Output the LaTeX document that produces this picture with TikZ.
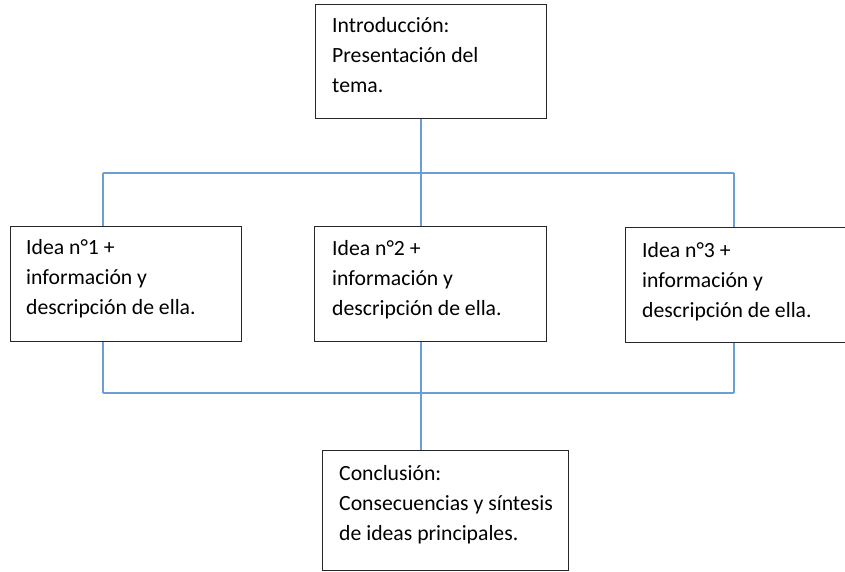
\documentclass[tikz,border=0pt]{standalone}
\usepackage{fontspec}
\setmainfont{Carlito}
\definecolor{conn}{RGB}{108,158,214}
\begin{document}
\begin{tikzpicture}[x=1pt,y=-1pt,
  box/.style={draw=black!85,line width=1.4pt,rectangle,inner sep=0pt,anchor=north west},
  txt/.style={anchor=base west,inner sep=0pt,align=left,font=\fontsize{21.7}{30}\selectfont},
  wire/.style={draw=conn,line width=2.2pt}]
\useasboundingbox (0,0) rectangle (845,571);
\clip (0,0) rectangle (845,571);
% boxes
\node[box,minimum width=231pt,minimum height=114pt] (intro) at (315,4) {};
\node[box,minimum width=231pt,minimum height=115pt] (i1) at (10,226) {};
\node[box,minimum width=232pt,minimum height=115pt] (i2) at (314,226) {};
\node[box,minimum width=240pt,minimum height=115pt] (i3) at (625,227) {};
\node[box,minimum width=246pt,minimum height=119.5pt] (concl) at (322,450) {};
% texts (anchored at the baseline of the last line)
\node[txt] (tintro) at (332,92) {Introducción:\\Presentación del\\tema.};
\node[txt] (ti1) at (26,314) {Idea n°1 +\\información y\\descripción de ella.};
\node[txt] (ti2) at (332,315) {Idea n°2 +\\información y\\descripción de ella.};
\node[txt] (ti3) at (642,317) {Idea n°3 +\\información y\\descripción de ella.};
\node[txt] (tconcl) at (339,540) {Conclusión:\\Consecuencias y síntesis\\de ideas principales.};
% connector coordinates
\coordinate (tl) at (103,173);
\coordinate (tm) at (421,173);
\coordinate (tr) at (734,173);
\coordinate (bl) at (103,393);
\coordinate (bm) at (421,393);
\coordinate (br) at (734,393);
% connectors
\draw[wire] (intro.south -| tm) -- (tm);
\draw[wire] (tl) -- (tr);
\draw[wire] (tl) -- (i1.north -| tl);
\draw[wire] (tm) -- (i2.north -| tm);
\draw[wire] (tr) -- (i3.north -| tr);
\draw[wire] (i1.south -| bl) -- (bl);
\draw[wire] (i2.south -| bm) -- (bm);
\draw[wire] (i3.south -| br) -- (br);
\draw[wire] (bl) -- (br);
\draw[wire] (bm) -- (concl.north -| bm);
\end{tikzpicture}
\end{document}
